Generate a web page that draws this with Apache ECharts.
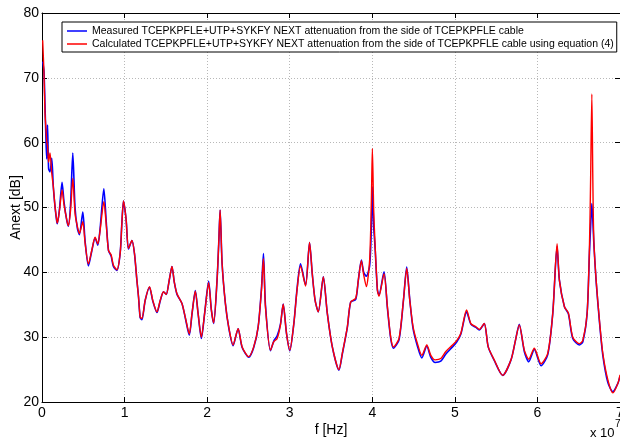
<!DOCTYPE html>
<html>
<head>
<meta charset="utf-8">
<script src="https://cdn.jsdelivr.net/npm/echarts@6/dist/echarts.min.js"></script>
<style>html,body{margin:0;padding:0;background:#fff}#c{width:620px;height:441px}</style>
</head>
<body>
<div id="c"></div>
<script>
// frequency in MHz (axis shows units of 1e7 Hz)
var freqMHz = [0.08,0.24,0.36,0.49,0.57,0.67,0.80,0.97,1.18,1.37,1.58,1.78,1.86,2.12,2.43,2.67,3.00,3.19,3.46,3.73,
4.00,4.28,4.53,4.94,5.22,5.62,6.03,6.43,6.76,7.04,7.49,7.77,8.05,8.37,8.65,9.07,9.47,9.67,9.87,10.19,
10.47,10.89,11.20,11.49,11.69,11.89,12.10,12.50,13.02,13.41,13.92,14.32,14.72,15.05,15.41,15.74,16.02,16.35,16.95,17.35,
17.84,18.17,18.57,18.90,19.30,19.70,20.18,20.51,20.79,21.20,21.42,21.57,21.81,22.21,22.61,23.14,23.75,24.24,25.04,25.64,
26.18,26.58,26.82,27.06,27.67,28.07,28.48,28.88,29.21,29.61,30.01,30.50,30.89,31.31,31.92,32.40,32.73,33.07,33.46,34.07,
34.55,35.16,35.96,36.37,36.98,37.38,37.99,38.31,38.68,38.96,39.28,39.68,39.89,40.01,40.17,40.33,40.62,40.81,41.42,41.83,
42.23,42.56,43.24,43.77,44.17,44.54,44.94,45.47,46.00,46.60,47.09,47.61,48.30,48.91,49.72,50.24,50.73,51.42,51.94,52.55,
52.95,53.56,54.04,54.77,55.79,56.80,57.34,57.80,58.41,58.95,59.62,60.44,61.25,61.86,62.38,62.66,63.27,63.75,64.28,65.08,
65.50,66.02,66.30,66.44,66.59,66.71,66.83,67.11,67.51,67.92,68.53,69.14,69.75,70.00];

var measured = [72.5,71.0,66.0,60.0,57.5,62.7,56.0,55.5,57.6,53.2,50.1,47.9,47.5,49.8,53.9,50.8,48.0,47.1,50.5,58.4,
50.0,46.8,45.8,49.3,44.8,41.0,43.3,45.3,44.2,46.8,52.9,48.0,43.4,42.5,40.9,40.3,43.0,47.5,51.0,48.1,
43.6,44.9,42.9,38.8,36.2,33.0,32.7,35.7,37.7,35.6,33.8,35.6,37.0,36.6,38.8,40.9,38.5,36.6,35.2,33.0,
30.3,33.6,37.2,33.7,29.8,33.7,38.6,34.2,32.1,38.8,45.0,49.6,41.4,35.2,31.5,28.7,31.3,28.4,26.9,28.4,
31.6,37.5,42.9,35.0,27.9,29.4,30.2,32.0,35.1,30.6,27.9,32.1,37.5,41.3,38.0,44.6,39.8,35.7,33.9,39.3,
33.7,28.5,24.9,27.4,31.5,35.4,35.8,38.8,41.9,40.0,39.4,41.0,47.0,53.2,47.0,44.0,37.3,36.5,40.1,34.5,
29.8,28.3,29.6,35.6,40.8,35.8,31.3,28.6,26.8,28.6,26.9,26.1,26.3,27.4,28.5,29.3,30.5,33.9,32.0,31.5,
31.1,32.1,28.5,26.4,24.1,26.5,29.5,32.0,27.8,26.2,28.1,25.6,27.3,33.7,44.0,38.8,34.7,33.6,29.8,28.8,
29.3,33.7,43.0,47.0,50.6,48.0,44.5,38.6,32.4,27.2,23.0,21.6,22.9,24.0];

var calculated = [75.8,70.7,64.6,61.9,60.2,59.5,57.0,58.4,55.3,53.2,50.1,48.1,47.6,49.6,52.7,50.4,48.1,47.2,49.6,54.5,
49.1,47.1,46.0,47.8,44.5,41.3,43.4,45.4,44.4,46.5,50.9,47.5,43.4,42.7,41.1,40.4,43.0,47.5,51.0,48.1,
43.7,44.9,42.9,38.8,36.2,33.1,32.9,35.7,37.8,35.7,33.9,35.7,37.0,36.6,38.8,40.9,38.5,36.7,35.2,33.1,
30.5,33.7,37.1,33.7,30.0,33.7,38.4,34.2,32.2,38.8,45.0,49.6,41.4,35.2,31.6,28.8,31.3,28.5,27.0,28.5,
31.6,37.3,42.1,34.7,28.0,29.3,29.8,31.9,35.1,30.6,28.0,32.1,37.3,41.0,37.9,44.6,39.8,35.7,33.9,39.3,
33.7,28.5,25.0,27.5,31.6,35.4,36.0,38.8,41.8,39.6,37.8,41.9,51.1,59.1,49.6,44.5,37.3,36.3,39.8,34.7,
30.0,28.5,29.8,35.7,40.6,35.7,31.6,29.0,27.2,28.8,27.2,26.5,26.7,27.8,28.8,29.5,30.6,34.2,32.1,31.6,
31.2,32.1,28.5,26.5,24.1,26.5,29.5,31.9,28.0,26.6,28.3,25.9,27.5,33.7,44.4,38.8,34.7,33.7,30.0,29.0,
29.5,33.7,43.9,54.2,67.5,54.2,45.0,38.8,32.6,27.5,23.4,21.4,22.9,24.2];

var seriesNames = ['Measured TCEPKPFLE+UTP+SYKFY NEXT attenuation from the side of TCEPKPFLE cable',
  'Calculated TCEPKPFLE+UTP+SYKFY NEXT attenuation from the side of TCEPKPFLE cable using equation (4)'];
var xTickLabels = ['0','1','2','3','4','5','6','7'];
var yTicks = [20,30,40,50,60,70,80];

function zip(xs, ys){ return xs.map(function(x,i){ return [x, ys[i]]; }); }

var FONT = 'Liberation Sans, Arial, Helvetica, sans-serif';
var chart = echarts.init(document.getElementById('c'), null, {renderer:'canvas'});
var axisLineBlack = {show:true, onZero:false, lineStyle:{color:'#000', width:1}};
var tickIn = {show:true, inside:true, length:5, lineStyle:{color:'#000', width:1}};
var dotted = {show:true, lineStyle:{color:'#b8b8b8', type:[1,2], width:1}};

chart.setOption({
  animation:false,
  backgroundColor:'#fff',
  grid:{left:42, right:0, top:13, bottom:39, containLabel:false, outerBoundsMode:'none'},
  legend:{
    left:62, top:22, orient:'vertical',
    backgroundColor:'#fff', borderColor:'#000', borderWidth:1,
    padding:[3,3,2,5], itemGap:1, itemWidth:20, itemHeight:1.5, icon:'rect',
    textStyle:{fontFamily:FONT, fontSize:10.5, color:'#000', lineHeight:12},
    data:seriesNames
  },
  xAxis:[{
    type:'value', min:0, max:70, interval:10, position:'bottom',
    name:'f [Hz]', nameLocation:'middle', nameGap:21, nameMoveOverlap:false,
    nameTextStyle:{fontFamily:FONT, fontSize:14, color:'#000'},
    axisLine:axisLineBlack, axisTick:tickIn,
    axisLabel:{fontFamily:FONT, fontSize:14, color:'#000', margin:4,
      formatter:function(v){ return xTickLabels[Math.round(v/10)]; }},
    splitLine:dotted
  },{
    type:'value', min:0, max:70, interval:10, position:'top',
    axisLine:axisLineBlack, axisTick:tickIn, axisLabel:{show:false}, splitLine:{show:false}
  }],
  yAxis:[{
    type:'value', min:yTicks[0], max:yTicks[yTicks.length-1], interval:10, position:'left',
    name:'Anext [dB]', nameLocation:'middle', nameGap:19, nameMoveOverlap:false,
    nameTextStyle:{fontFamily:FONT, fontSize:14, color:'#000'},
    axisLine:axisLineBlack, axisTick:tickIn,
    axisLabel:{fontFamily:FONT, fontSize:14, color:'#000', margin:3},
    splitLine:dotted
  },{
    type:'value', min:20, max:80, interval:10, position:'right',
    axisLine:axisLineBlack, axisTick:tickIn, axisLabel:{show:false}, splitLine:{show:false}
  }],
  graphic:[
    {type:'text', left:590, top:427, style:{text:'x 10', font:'13px ' + FONT, fill:'#000'}},
    {type:'text', left:615, top:419, style:{text:'7', font:'10px ' + FONT, fill:'#000'}}
  ],
  series:[{
    name:seriesNames[0], type:'line', data:zip(freqMHz, measured),
    showSymbol:false, smooth:0.25, color:'#0000ff',
    lineStyle:{color:'#0000ff', width:1.6}, z:2
  },{
    name:seriesNames[1], type:'line', data:zip(freqMHz, calculated),
    showSymbol:false, smooth:0.25, color:'#ff0000',
    lineStyle:{color:'#ff0000', width:1.4}, z:3
  }]
});
</script>
</body>
</html>
